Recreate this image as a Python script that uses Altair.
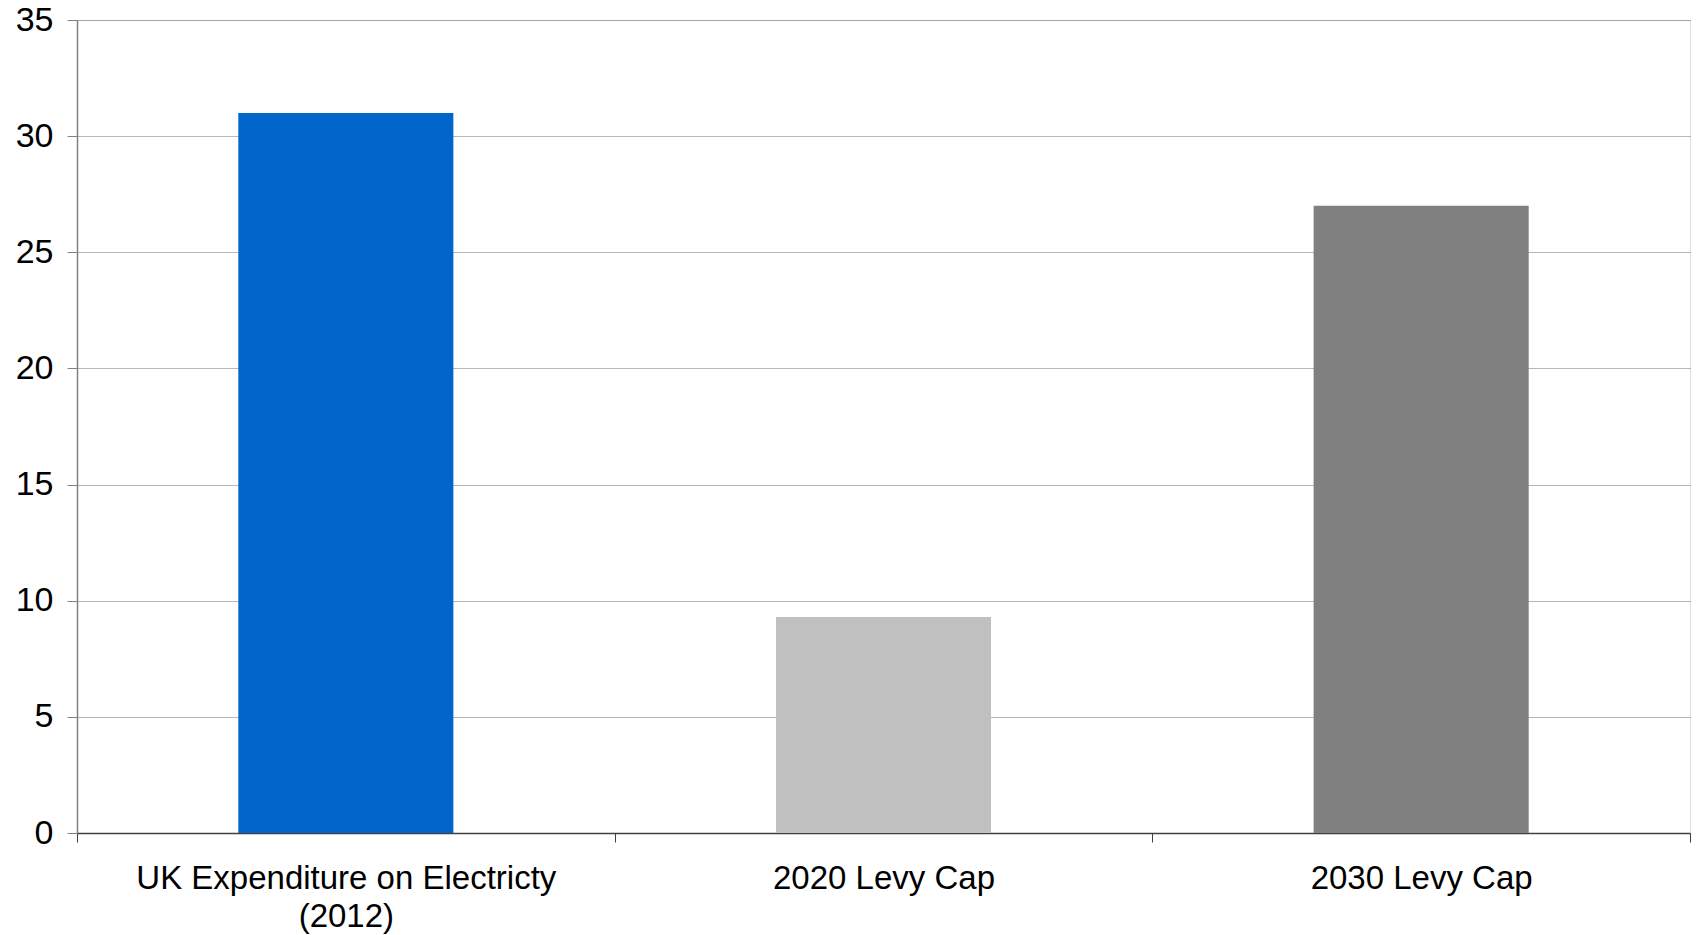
import altair as alt
import pandas as pd

categories = ["UK Expenditure on Electricty\n(2012)", "2020 Levy Cap", "2030 Levy Cap"]
values = [31.0, 9.3, 27.0]
colors = ["#0066CC", "#C0C0C0", "#808080"]

df = pd.DataFrame({"category": categories, "value": values})

FONT = "Liberation Sans"

chart = alt.Chart(df).mark_bar(width=alt.RelativeBandSize(0.4)).encode(
    x=alt.X(
        "category:N",
        sort=categories,
        title=None,
        scale=alt.Scale(paddingInner=0, paddingOuter=0),
        axis=alt.Axis(
            labelAngle=0,
            labelExpr="split(datum.label, '\\n')",
            labelFont=FONT,
            labelFontSize=33,
            labelColor="#000000",
            labelLineHeight=38,
            labelPadding=20,
            labelLimit=1000,
            tickBand="extent",
            tickSize=9,
            tickColor="#404040",
            domainColor="#404040",
            domainWidth=1.5,
            grid=False,
        ),
    ),
    y=alt.Y(
        "value:Q",
        title=None,
        scale=alt.Scale(domain=[0, 35], nice=False),
        axis=alt.Axis(
            values=[0, 5, 10, 15, 20, 25, 30, 35],
            labelFont=FONT,
            labelFontSize=34,
            labelColor="#000000",
            labelPadding=14,
            tickSize=10,
            tickColor="#808080",
            domainColor="#808080",
            domainWidth=1.5,
            grid=True,
            gridColor="#6e6e6e",
            gridDash=[1, 1],
            gridWidth=1,
        ),
    ),
    color=alt.Color(
        "category:N",
        scale=alt.Scale(domain=categories, range=colors),
        legend=None,
    ),
).properties(
    width=1613,
    height=813,
    autosize=alt.AutoSizeParams(type="none"),
    padding={"left": 77, "top": 20, "right": 6, "bottom": 102},
).configure_view(stroke=None).configure(background="white")

chart.save("out.html", embed_options={"renderer": "svg", "actions": False})
